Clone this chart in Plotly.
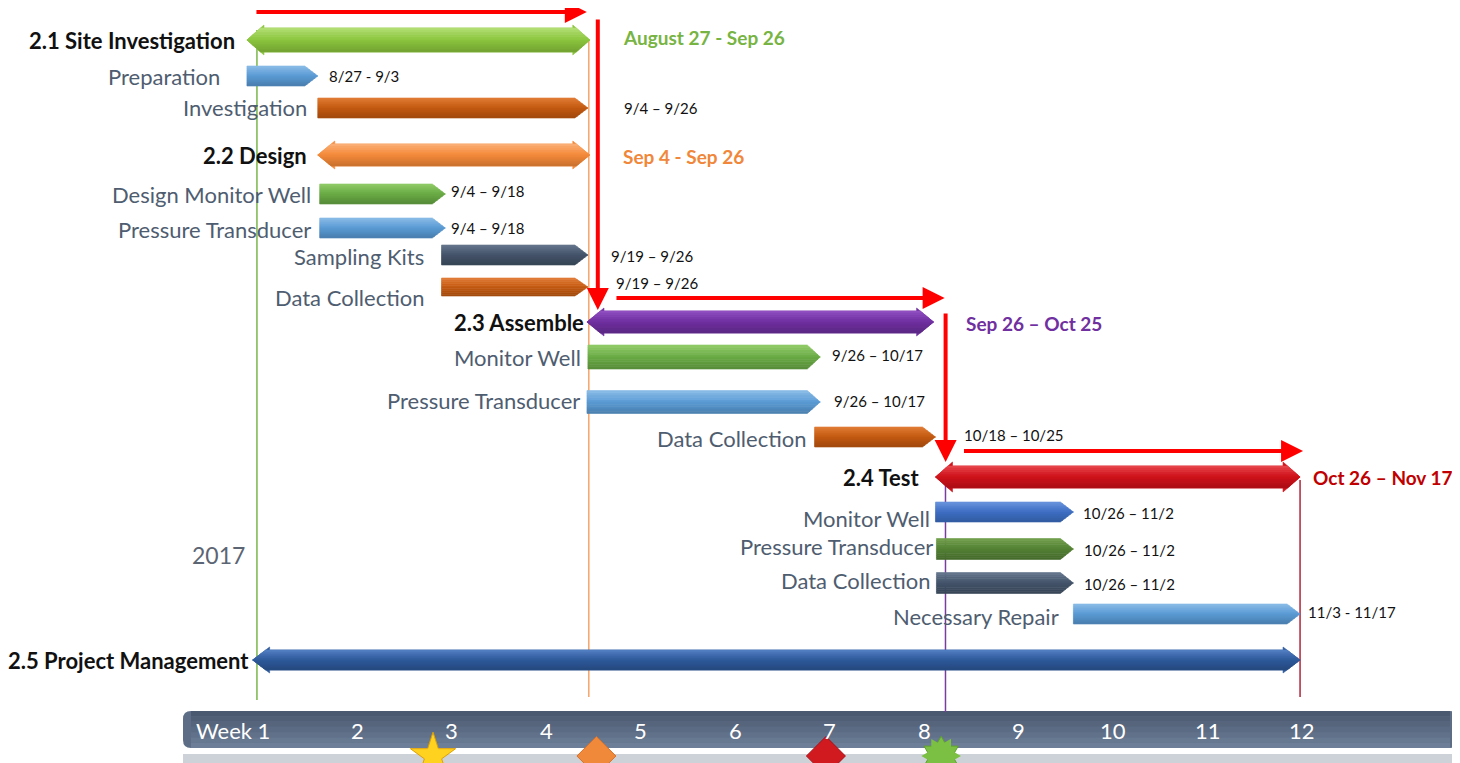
import plotly.graph_objects as go

# ---------------- data (x values in weeks) ----------------
phase_names = ["2.1 Site Investigation", "2.2 Design", "2.3 Assemble", "2.4 Test", "2.5 Project Management"]
phase_start = [0.83, 1.58, 4.43, 8.12, 0.89]
phase_end = [4.46, 4.46, 8.10, 11.98, 11.98]
phase_dates = ["August 27 - Sep 26", "Sep 4 - Sep 26", "Sep 26 – Oct 25", "Oct 26 – Nov 17", ""]

task_names = ["Preparation", "Investigation", "Design Monitor Well", "Pressure Transducer",
              "Sampling Kits", "Data Collection", "Monitor Well", "Pressure Transducer",
              "Data Collection", "Monitor Well", "Pressure Transducer", "Data Collection",
              "Necessary Repair"]
task_start = [0.83, 1.58, 1.60, 1.60, 2.89, 2.89, 4.44, 4.43, 6.84, 8.12, 8.13, 8.13, 9.58]
task_end = [1.58, 4.44, 2.93, 2.93, 4.44, 4.44, 6.90, 6.90, 8.12, 9.58, 9.58, 9.58, 11.98]
task_dates = ["8/27 - 9/3", "9/4 – 9/26", "9/4 – 9/18", "9/4 – 9/18", "9/19 – 9/26",
              "9/19 – 9/26", "9/26 – 10/17", "9/26 – 10/17", "10/18 – 10/25",
              "10/26 – 11/2", "10/26 – 11/2", "10/26 – 11/2", "11/3 - 11/17"]

week_ticks = [1, 2, 3, 4, 5, 6, 7, 8, 9, 10, 11, 12]
week_labels = ["Week 1", "2", "3", "4", "5", "6", "7", "8", "9", "10", "11", "12"]
year_label = "2017"

milestone_x = [2.80, 4.53, 6.96, 8.18]

# ---------------- layout / style ----------------
PXW = 94.45                     # pixels per week
OFF = 8                         # page body margin of the browser
FIG_W, FIG_H = 1460 - OFF, 763 - OFF
X0 = 1 + (OFF - 263) / PXW
X1 = X0 + FIG_W / PXW
FONT = "Lato"

def pw(n):
    return n / PXW

phase_y = [40, 155, 322, 477, 660]
phase_H = [15, 14, 14, 15, 13]
phase_s = [12, 11, 11, 11, 10]
phase_col = [("#8CC63E", "#B6E07A"), ("#F58A3A", "#FAB27C"), ("#7030A0", "#9352C4"),
             ("#D0121B", "#E8494F"), ("#2E5A9C", "#5580C4")]
phase_date_col = ["#77B443", "#F0873A", "#7030A0", "#C00000", "#000"]
phase_label_gap = [10, 9, 1, 14, 2]
phase_date_gap = [31, 31, 30, 11, 0]
phase_date_dy = [-3, 1, 1, 0, 0]

BLUE = ("#5B9BD5", "#8DBDE8")
ORNG = ("#C55A11", "#E27D38")
GRN = ("#6AAB45", "#92CC69")
SLAT = ("#44546A", "#66788F")
ROYL = ("#3E6FC4", "#6C95DD")
GRND = ("#548235", "#72A04C")
task_col = [BLUE, ORNG, GRN, BLUE, SLAT, ORNG, GRN, BLUE, ORNG, ROYL, GRND, SLAT, BLUE]
task_y = [76, 108, 194, 228, 255, 287, 357, 402, 437, 512, 549, 583, 614]
task_h = [10, 10, 10, 10, 10, 9, 12, 11.5, 10, 10, 10.5, 10.5, 10]
task_label_gap = [25, 9, 7, 7, 16, 16, 5, 5, 7, 3, 1, 4, 12]
task_label_dy = [0, -1, 0, 1, 1, 10, 0, -2, 1, 6, -3, -3, 2]
task_date_gap = [9, 34, 4, 4, 21, 26, 10, 12, 27, 8, 9, 9, 6]
task_date_dy = [0, 0, -3, 0, 1, -4, -2, -1, -2, 1, 1, 1, -2]
LABEL_COL = "#4F5D70"

fig = go.Figure()


def to_rgb(hexc):
    hexc = hexc.lstrip("#")
    return [int(hexc[i:i + 2], 16) for i in (0, 2, 4)]


def mix(c1, c2, t):
    a, b = to_rgb(c1), to_rgb(c2)
    return "#%02x%02x%02x" % tuple(int(round(a[k] + (b[k] - a[k]) * t)) for k in range(3))


def darken(hexc, f=0.8):
    r, g, b = to_rgb(hexc)
    return "#%02x%02x%02x" % (int(r * f), int(g * f), int(b * f))


def poly(xs, ys, color):
    fig.add_trace(go.Scatter(x=xs, y=ys, fill="toself", fillcolor=color, mode="lines",
                             line=dict(width=0.6, color=color), hoverinfo="skip", showlegend=False))


def grad(d):
    """colour position along the bar height: d in [-1, 1] (top .. bottom)."""
    return d


NSTRIP = 10


def strips(left, right, yc, lim, base, hi):
    """left(d)/right(d): x edges at signed pixel offset d from centre; fill gradient from -lim..lim."""
    lo = darken(base, 0.82)
    for k in range(NSTRIP):
        da = -lim + 2 * lim * k / NSTRIP
        db = -lim + 2 * lim * (k + 1) / NSTRIP
        t = (k + 0.5) / NSTRIP
        col = mix(hi, base, t / 0.5) if t < 0.5 else mix(base, lo, (t - 0.5) / 0.5)
        pts_r = [(right(da), da)]
        pts_l = [(left(da), da)]
        if da < 0 < db:
            pts_r.append((right(0), 0))
            pts_l.append((left(0), 0))
        pts_r.append((right(db), db))
        pts_l.append((left(db), db))
        pts = pts_r + pts_l[::-1]
        xs = [p[0] for p in pts] + [pts[0][0]]
        ys = [yc + p[1] for p in pts] + [yc + pts[0][1]]
        poly(xs, ys, col)


# task bars (pentagon arrows)
for i in range(len(task_names)):
    x0, x1, yc, h = task_start[i], task_end[i], task_y[i], task_h[i]
    tw = pw(13)
    base, hi = task_col[i]
    strips(lambda d, x0=x0: x0, lambda d, x1=x1, h=h: x1 - tw * abs(d) / h, yc, h, base, hi)

# phase bars (double arrows)
for i in range(len(phase_names)):
    x0, x1, yc, H, s = phase_start[i], phase_end[i], phase_y[i], phase_H[i], phase_s[i]
    L = pw(17)
    base, hi = phase_col[i]
    poly([x0, x0 + L, x0 + L, x1 - L, x1 - L, x1, x1 - L, x1 - L, x0 + L, x0 + L, x0],
         [yc, yc - H, yc - s, yc - s, yc - H, yc, yc + H, yc + s, yc + s, yc + H, yc], base)
    strips(lambda d, x0=x0, H=H: x0 + L * abs(d) / H, lambda d, x1=x1, H=H: x1 - L * abs(d) / H,
           yc, s, base, hi)

# milestones
ms_sym = ["star", "diamond", "diamond", "hexagram"]
ms_col = ["#FFD21F", "#F08A3A", "#D01A20", "#7BC043"]
ms_line = ["#E0A000", "#D9702A", "#A81015", "#5E9E2E"]
for i, mx in enumerate(milestone_x):
    fig.add_trace(go.Scatter(x=[mx], y=[756], mode="markers", hoverinfo="skip", showlegend=False,
                             marker=dict(symbol=ms_sym[i], size=30 if i != 0 else 34, color=ms_col[i],
                                         line=dict(width=1, color=ms_line[i]))))
    if ms_sym[i] == "hexagram":
        fig.add_trace(go.Scatter(x=[mx], y=[756], mode="markers", hoverinfo="skip", showlegend=False,
                                 marker=dict(symbol="hexagram", size=30, angle=30, color=ms_col[i],
                                             line=dict(width=0))))

shapes = []
# timeline band
bx0, bx1, by0, by1, r = pw(183 - 263) + 1, pw(1458 - 263) + 1, 711, 748, 8
rx = pw(r)
band_path = (f"M {bx0 + rx},{by0} L {bx1 - rx},{by0} Q {bx1},{by0} {bx1},{by0 + r} "
             f"L {bx1},{by1 - r} Q {bx1},{by1} {bx1 - rx},{by1} L {bx0 + rx},{by1} "
             f"Q {bx0},{by1} {bx0},{by1 - r} L {bx0},{by0 + r} Q {bx0},{by0} {bx0 + rx},{by0} Z")
shapes.append(dict(type="rect", xref="x", yref="y", x0=bx0, x1=X1, y0=754, y1=763,
                   fillcolor="#CDD2D9", line=dict(width=0), layer="below"))
shapes.append(dict(type="path", path=band_path, xref="x", yref="y", fillcolor="#5D6D86",
                   line=dict(width=0), layer="below"))
for k, c in enumerate(["#4A596F", "#505F76", "#56657C", "#5B6B83", "#61718A", "#677891", "#6D7F98"]):
    shapes.append(dict(type="rect", xref="x", yref="y", x0=bx0 + rx, x1=bx1 - rx,
                       y0=by0 + k * (by1 - by0) / 7, y1=by0 + (k + 1) * (by1 - by0) / 7,
                       fillcolor=c, line=dict(width=0), layer="below"))

# phase boundary lines
vlines = [(phase_start[0] + pw(10), 30, 700, "#7AB648"),
          (phase_end[0] - pw(1), 40, 697, "#F5A46A"),
          (phase_start[3] + pw(10), 470, 712, "#7A3C9E"),
          (phase_end[3], 480, 697, "#B0243A")]
for xv, ya, yb, c in vlines:
    shapes.append(dict(type="line", xref="x", yref="y", x0=xv, x1=xv, y0=ya, y1=yb,
                       line=dict(color=c, width=1.5), layer="below"))

annotations = []

def txt(x, y, t, size, color, anchor="right", bold=False, xshift=0, yshift=0):
    annotations.append(dict(x=x, y=y, xref="x", yref="y", text=f"<b>{t}</b>" if bold else t,
                            showarrow=False, xanchor=anchor, yanchor="middle", xshift=xshift,
                            yshift=yshift, font=dict(family=FONT, size=size, color=color)))

for i, n in enumerate(task_names):
    txt(task_start[i], task_y[i], n, 22, LABEL_COL, "right", xshift=-task_label_gap[i],
        yshift=-task_label_dy[i])
    txt(task_end[i], task_y[i], task_dates[i], 15, "#111111", "left", xshift=task_date_gap[i],
        yshift=-task_date_dy[i])

for i, n in enumerate(phase_names):
    txt(phase_start[i], phase_y[i], n, 22, "#111111", "right", bold=True, xshift=-phase_label_gap[i])
    if phase_dates[i]:
        txt(phase_end[i], phase_y[i], phase_dates[i], 19, phase_date_col[i], "left", bold=True,
            xshift=phase_date_gap[i], yshift=-phase_date_dy[i])

txt(phase_start[0], 555, year_label, 23, "#5B6573", "right")

for w, lab in zip(week_ticks, week_labels):
    if lab.startswith("Week"):
        txt(w, 730, lab, 22, "white", "right", xshift=9)
    else:
        txt(w, 730, lab, 22, "white", "center")

# red connector arrows
RED = "#FF0000"
conns = [
    (phase_start[0] + pw(8), phase_y[0] - 28, phase_end[0] - pw(3), phase_y[0] - 28),
    (phase_end[0] + pw(8), phase_y[0] - 22, phase_end[0] + pw(8), phase_y[2] - 12),
    (phase_start[2] + pw(28), phase_y[2] - 24, phase_end[2] + pw(11), phase_y[2] - 24),
    (phase_end[2] + pw(12), phase_y[2] - 10, phase_end[2] + pw(12), phase_y[3] - 15),
    (phase_start[3] + pw(27), phase_y[3] - 26, phase_end[3] + pw(3), phase_y[3] - 26),
]
for ax_, ay_, hx, hy in conns:
    annotations.append(dict(x=hx, y=hy, ax=ax_, ay=ay_, xref="x", yref="y", axref="x", ayref="y",
                            text="", showarrow=True, arrowhead=2, arrowsize=1.1, arrowwidth=4,
                            arrowcolor=RED, standoff=0))

fig.update_layout(
    width=FIG_W, height=FIG_H, margin=dict(l=0, r=0, t=0, b=0),
    paper_bgcolor="white", plot_bgcolor="white",
    xaxis=dict(range=[X0, X1], visible=False, fixedrange=True),
    yaxis=dict(range=[763, OFF], visible=False, fixedrange=True),
    shapes=shapes, annotations=annotations, showlegend=False,
)
fig.write_html("out.html", config={"displayModeBar": False})
